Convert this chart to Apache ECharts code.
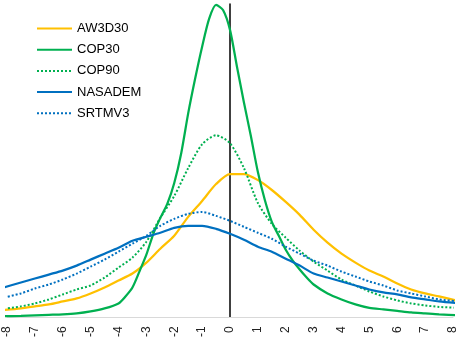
<!DOCTYPE html>
<html><head><meta charset="utf-8">
<script src="https://cdn.jsdelivr.net/npm/echarts@6/dist/echarts.min.js"></script>
<style>html,body{margin:0;padding:0;background:#fff}#c{width:460px;height:340px}</style>
</head><body><div id="c"></div><script>
const seriesNames = ['AW3D30', 'COP30', 'COP90', 'NASADEM', 'SRTMV3'];
// x positions (error, m)
const xCoarse = [-8.25,-7.5,-7,-6.5,-6,-5.5,-5,-4.5,-4,-3.5,-3,-2.5,-2,-1.5,-1,-0.5,0,0.5,1,1.5,2,2.5,3,3.5,4,4.5,5,5.5,6,6.5,7,7.5,8.25];
const xFine = [-8.25,-7.5,-7,-6.5,-6,-5.5,-5,-4.5,-4,-3.75,-3.5,-3.25,-3,-2.75,-2.5,-2.25,-2,-1.75,-1.5,-1.25,-1,-0.75,-0.5,-0.25,0,0.25,0.5,0.75,1,1.25,1.5,1.75,2,2.25,2.5,2.75,3,3.5,4,4.5,5,5.5,6,6.5,7,7.5,8.25];
// frequency values (%)
const aw3d30 = [0.07,0.09,0.11,0.13,0.16,0.19,0.24,0.30,0.37,0.44,0.55,0.69,0.82,1.01,1.17,1.34,1.44,1.44,1.38,1.28,1.16,1.03,0.88,0.75,0.64,0.55,0.47,0.41,0.34,0.28,0.24,0.21,0.16];
const cop30 = [0.01,0.015,0.02,0.025,0.03,0.04,0.06,0.09,0.14,0.21,0.30,0.46,0.63,0.84,1.00,1.14,1.35,1.65,2.05,2.40,2.72,3.00,3.14,3.09,2.89,2.52,2.16,1.82,1.46,1.18,0.96,0.82,0.68,0.57,0.48,0.40,0.33,0.24,0.18,0.13,0.095,0.08,0.065,0.05,0.04,0.03,0.02];
const cop90 = [0.08,0.11,0.14,0.18,0.23,0.28,0.32,0.40,0.50,0.60,0.76,1.00,1.22,1.50,1.74,1.83,1.75,1.50,1.15,0.94,0.80,0.67,0.56,0.47,0.38,0.32,0.26,0.21,0.17,0.14,0.12,0.105,0.095];
const nasadem = [0.29,0.35,0.39,0.43,0.47,0.52,0.58,0.64,0.70,0.77,0.81,0.85,0.90,0.92,0.92,0.89,0.84,0.78,0.71,0.66,0.59,0.52,0.44,0.40,0.36,0.32,0.28,0.25,0.23,0.20,0.18,0.16,0.14];
const srtmv3 = [0.19,0.24,0.29,0.33,0.38,0.44,0.51,0.58,0.66,0.74,0.82,0.92,0.99,1.04,1.06,1.02,0.97,0.91,0.85,0.79,0.71,0.64,0.57,0.52,0.46,0.41,0.36,0.32,0.27,0.24,0.21,0.18,0.16];

const pair = (xs, ys) => xs.map((x, i) => [x, ys[i]]);
const ORANGE = '#FFC000', GREEN = '#00B050', BLUE = '#0070C0';
function mk(name, xs, ys, color, dotted) {
  return {
    name, type: 'line', data: pair(xs, ys), symbol: 'none', smooth: 0.25, clip: false,
    lineStyle: { color, width: dotted ? 2 : 2.25, type: dotted ? [2, 2] : 'solid' },
    itemStyle: { color }
  };
}
const chart = echarts.init(document.getElementById('c'), null, { renderer: 'canvas' });
chart.setOption({
  animation: false,
  backgroundColor: '#fff',
  grid: { left: 7, right: 7, top: 4, bottom: 21 },
  legend: {
    orient: 'vertical', left: 36, top: 22, padding: 0, itemWidth: 35, itemHeight: 14, itemGap: 8.2,
    itemStyle: { opacity: 0 },
    textStyle: { fontFamily: 'Liberation Sans', fontSize: 13, color: '#000' },
    data: seriesNames
  },
  xAxis: {
    type: 'value', min: -8, max: 8, interval: 1,
    axisLine: { onZero: false, lineStyle: { color: '#d9d9d9', width: 1 } },
    axisTick: { show: false }, splitLine: { show: false },
    axisLabel: { rotate: 90, margin: 9, fontSize: 12, fontFamily: 'Liberation Sans', color: '#222', showMinLabel: true, showMaxLabel: true }
  },
  yAxis: {
    type: 'value', min: 0, max: 3.15,
    axisLine: { show: true, onZero: true, lineStyle: { color: '#000', width: 1.5 } },
    axisTick: { show: false }, axisLabel: { show: false }, splitLine: { show: false }
  },
  series: [
    mk('AW3D30', xCoarse, aw3d30, ORANGE, false),
    mk('COP30', xFine, cop30, GREEN, false),
    mk('COP90', xCoarse, cop90, GREEN, true),
    mk('NASADEM', xCoarse, nasadem, BLUE, false),
    mk('SRTMV3', xCoarse, srtmv3, BLUE, true)
  ]
});
</script></body></html>
